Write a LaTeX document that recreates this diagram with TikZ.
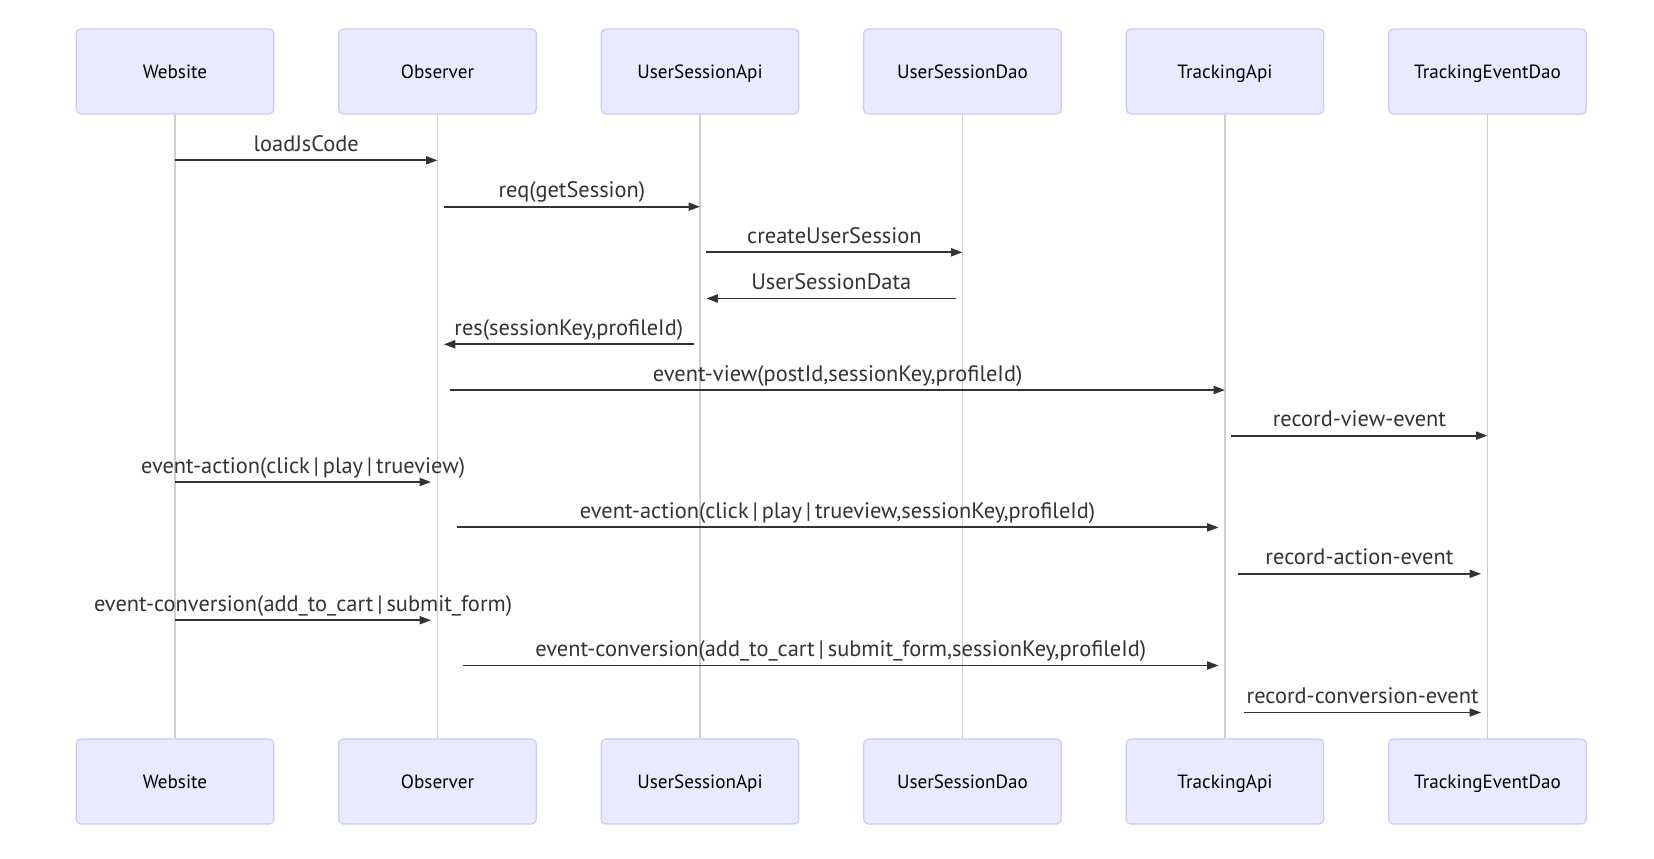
\documentclass[tikz,border=0pt]{standalone}
\usepackage{fontspec}
\setmainfont{PT Sans}
\usetikzlibrary{arrows.meta,positioning,calc}
\definecolor{actorfill}{HTML}{EAEAFF}
\definecolor{actorline}{HTML}{C9C9FA}
\definecolor{lifegray}{HTML}{CFCFCF}
\definecolor{msgcolor}{HTML}{333333}
\newcommand{\mpipe}{\hspace{2.2pt}|\hspace{2.2pt}}
\tikzset{
    actor/.style={draw=actorline,fill=actorfill,line width=0.6pt,rounded corners=2.5pt,
        minimum width=3.95cm,minimum height=1.7cm,inner sep=0pt,text height=1.03em,text depth=0.22em,
        font=\fontsize{10.9}{12}\selectfont},
    lifeline/.style={color=lifegray,line width=0.6pt},
    msg/.style={-{Triangle[length=0.23cm,width=0.16cm]},line width=1.1pt,color=msgcolor},
    msg label/.style={anchor=base,yshift=0.18cm,text=msgcolor,font=\fontsize{12.75}{14}\selectfont},
}

\begin{document}
\begin{tikzpicture}[scale=1]
    \useasboundingbox (0,0) rectangle (33.08,-17.16);

    % actors and lifelines
    \foreach \n/\t [count=\i] in {ws/Website,ob/Observer,usa/UserSessionApi,
        usd/UserSessionDao,ta/TrackingApi,ted/TrackingEventDao}{
        \node[actor] (\n top) at ({3.5+5.25*(\i-1)},-1.43) {\t};
        \node[actor] (\n bot) at ({3.5+5.25*(\i-1)},-15.63) {\t};
        \draw[lifeline] (\n top) -- (\n bot);
    }

    % messages: from/to/depth/start shift/end shift/text
    \foreach \f/\t/\y/\s/\e/\txt in {
        ws/ob/3.206/0/0/loadJsCode,
        ob/usa/4.134/1/0/req(getSession),
        usa/usd/5.046/1/0/createUserSession,
        usd/usa/5.970/-1/1/UserSessionData,
        usa/ob/6.886/-1/1/{res(sessionKey,profileId)},
        ob/ta/7.800/2/0/{event-view(postId,sessionKey,profileId)},
        ta/ted/8.712/1/0/record-view-event,
        ws/ob/9.640/0/-1/event-action(click\mpipe play\mpipe trueview),
        ob/ta/10.548/3/-1/{event-action(click\mpipe play\mpipe trueview,sessionKey,profileId)},
        ta/ted/11.476/2/-1/record-action-event,
        ws/ob/12.404/0/-1/event-conversion(add\_to\_cart\mpipe submit\_form),
        ob/ta/13.310/4/-1/{event-conversion(add\_to\_cart\mpipe submit\_form,sessionKey,profileId)},
        ta/ted/14.250/3/-1/record-conversion-event}{
        \draw[msg] ($(\f top.south |- 0,-\y)+(\s*0.127,0)$)
        -- ($(\t top.south |- 0,-\y)+(\e*0.127,0)$)
        node[midway,msg label] {\txt};
    }
\end{tikzpicture}
\end{document}
